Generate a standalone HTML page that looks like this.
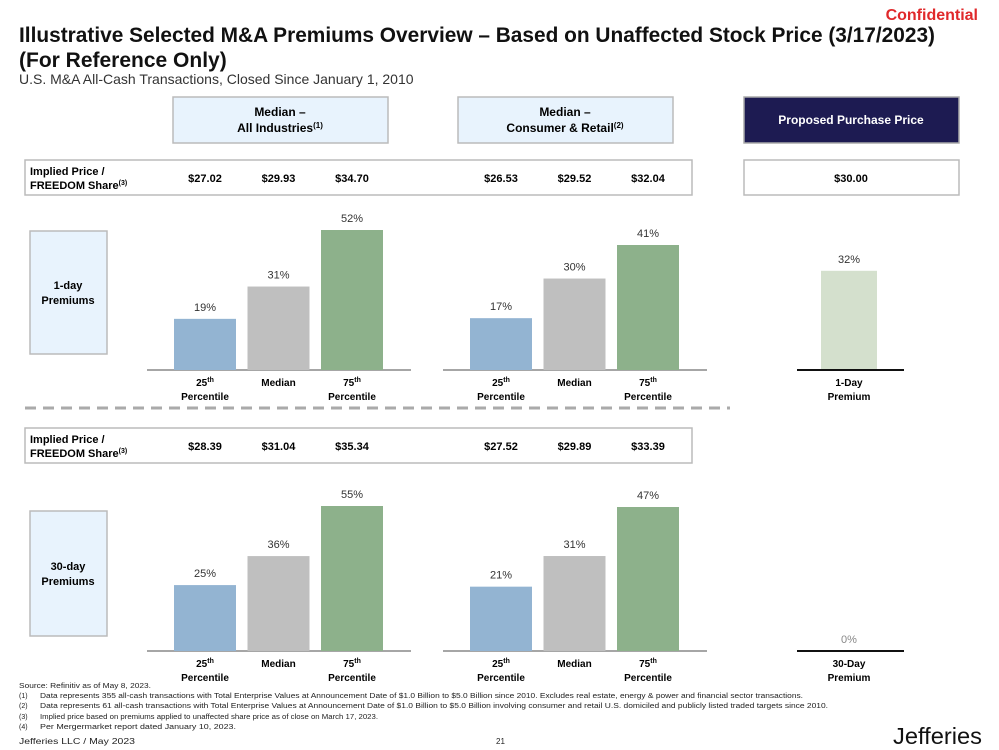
<!DOCTYPE html>
<html><head><meta charset="utf-8"><style>
body{margin:0;width:999px;height:750px;background:#fff;overflow:hidden;font-family:"Liberation Sans",sans-serif}
svg{position:absolute;left:0;top:0}
text{font-family:"Liberation Sans",sans-serif}
.b{font-weight:bold}
</style></head><body>
<svg id="s" width="999" height="750">
<text x="978" y="20" text-anchor="end" fill="#e0292b" font-size="16" class="b">Confidential</text>
<text x="19" y="42" font-size="21" class="b" fill="#111" textLength="916" lengthAdjust="spacingAndGlyphs">Illustrative Selected M&amp;A Premiums Overview – Based on Unaffected Stock Price (3/17/2023)</text>
<text x="19" y="67" font-size="21" class="b" fill="#111">(For Reference Only)</text>
<text x="19" y="84" font-size="14" fill="#333">U.S. M&amp;A All-Cash Transactions, Closed Since January 1, 2010</text>
<g><rect x="173" y="97" width="215" height="46" fill="#e8f3fd" stroke="#bbb" stroke-width="1.5"/>
<text x="280" y="116" text-anchor="middle" font-size="12" class="b">Median –</text>
<text x="280" y="132" text-anchor="middle" font-size="12" class="b">All Industries<tspan font-size="8" dy="-4">(1)</tspan></text></g>
<g><rect x="458" y="97" width="215" height="46" fill="#e8f3fd" stroke="#bbb" stroke-width="1.5"/>
<text x="565" y="116" text-anchor="middle" font-size="12" class="b">Median –</text>
<text x="565" y="132" text-anchor="middle" font-size="12" class="b">Consumer &amp; Retail<tspan font-size="8" dy="-4">(2)</tspan></text></g>
<g><rect x="744" y="97" width="215" height="46" fill="#1d1b52" stroke="#aaa" stroke-width="1.5"/>
<text x="851" y="124" text-anchor="middle" font-size="12" class="b" fill="#fff">Proposed Purchase Price</text></g>
<g><rect x="25" y="160" width="667" height="35" fill="#fff" stroke="#bbb" stroke-width="1.5"/>
<text x="30" y="175" font-size="11" class="b">Implied Price /</text><text x="30" y="189" font-size="11" class="b">FREEDOM Share<tspan font-size="7" dy="-4">(3)</tspan></text></g>
<rect x="744" y="160" width="215" height="35" fill="#fff" stroke="#bbb" stroke-width="1.5"/>
<text x="851" y="182" text-anchor="middle" font-size="11" class="b">$30.00</text>
<g><rect x="25" y="428" width="667" height="35" fill="#fff" stroke="#bbb" stroke-width="1.5"/>
<text x="30" y="443" font-size="11" class="b">Implied Price /</text><text x="30" y="457" font-size="11" class="b">FREEDOM Share<tspan font-size="7" dy="-4">(3)</tspan></text></g>
<g><rect x="30" y="231" width="77" height="123" fill="#e8f3fd" stroke="#bbb" stroke-width="1.5"/>
<text x="68" y="289" text-anchor="middle" font-size="11" class="b">1-day</text><text x="68" y="304" text-anchor="middle" font-size="11" class="b">Premiums</text></g>
<g><rect x="30" y="511" width="77" height="125" fill="#e8f3fd" stroke="#bbb" stroke-width="1.5"/>
<text x="68" y="570" text-anchor="middle" font-size="11" class="b">30-day</text><text x="68" y="585" text-anchor="middle" font-size="11" class="b">Premiums</text></g>
<line x1="25" y1="408" x2="730" y2="408" stroke="#aaa" stroke-width="3" stroke-dasharray="11,7"/>
<g font-size="7" fill="#222">
<text x="19" y="688" textLength="132" lengthAdjust="spacingAndGlyphs">Source: Refinitiv as of May 8, 2023.</text>
<text x="19" y="698">(1)</text><text x="40" y="698" textLength="763" lengthAdjust="spacingAndGlyphs">Data represents 355 all-cash transactions with Total Enterprise Values at Announcement Date of $1.0 Billion to $5.0 Billion since 2010. Excludes real estate, energy &amp; power and financial sector transactions.</text>
<text x="19" y="708">(2)</text><text x="40" y="708" textLength="788" lengthAdjust="spacingAndGlyphs">Data represents 61 all-cash transactions with Total Enterprise Values at Announcement Date of $1.0 Billion to $5.0 Billion involving consumer and retail U.S. domiciled and publicly listed traded targets since 2010.</text>
<text x="19" y="719">(3)</text><text x="40" y="719" textLength="338" lengthAdjust="spacingAndGlyphs">Implied price based on premiums applied to unaffected share price as of close on March 17, 2023.</text>
<text x="19" y="729">(4)</text><text x="40" y="729" textLength="196" lengthAdjust="spacingAndGlyphs">Per Mergermarket report dated January 10, 2023.</text>
<text x="19" y="744" font-size="8" textLength="116" lengthAdjust="spacingAndGlyphs">Jefferies LLC  /  May 2023</text>
<text x="496" y="744" font-size="8">21</text>
</g>
<text x="893" y="744" font-size="23" fill="#111" textLength="89" lengthAdjust="spacingAndGlyphs">Jefferies</text>
</svg>
<script>
const categories=["25th","Median","75th"];
const oneDayAll=[19,31,52];
const oneDayCR=[17,30,41];
const thirtyDayAll=[25,36,55];
const thirtyDayCR=[21,31,47];
const priceOneAll=["$27.02","$29.93","$34.70"];
const priceOneCR=["$26.53","$29.52","$32.04"];
const priceThirtyAll=["$28.39","$31.04","$35.34"];
const priceThirtyCR=["$27.52","$29.89","$33.39"];
const proposedOneDay=[32];
const proposedThirtyDay=[0];
const colors=["#93b4d2","#bfbfbf","#8db18b"];
const s=document.getElementById('s');
const NS="http://www.w3.org/2000/svg";
function mk(t,a,txt){const e=document.createElementNS(NS,t);for(const k in a)e.setAttribute(k,a[k]);if(txt!==undefined)e.textContent=txt;s.appendChild(e);return e;}
function yScale(base,maxH,maxV){return v=>base-v/maxV*maxH;}
function group(vals,prices,x0,base,maxH,priceY,tag){
  const y=yScale(base,maxH,Math.max(...vals));
  const l=mk('line',{x1:x0-27,y1:base,x2:x0+237,y2:base,stroke:'#888','stroke-width':1.5});
  
  
  vals.forEach((v,i)=>{
    const cx=x0+31+i*73.5;
    const r=mk('rect',{x:cx-31,y:y(v),width:62,height:base-y(v),fill:colors[i]});
    
    
    const t=mk('text',{x:cx,y:y(v)-8,'text-anchor':'middle','font-size':11,fill:'#333'},v+'%');
    
    
    const p=mk('text',{x:cx,y:priceY,'text-anchor':'middle','font-size':11,'font-weight':'bold'},prices[i]);
    
    
    const c=mk('text',{x:cx,y:base+16,'text-anchor':'middle','font-size':10,'font-weight':'bold'});
    
    
    if(i==1){c.textContent='Median';}
    else{c.textContent=categories[i].slice(0,2);const sp=document.createElementNS(NS,'tspan');sp.setAttribute('font-size','7');sp.setAttribute('dy','-4');sp.textContent='th';c.appendChild(sp);
      const q=mk('text',{x:cx,y:base+30,'text-anchor':'middle','font-size':10,'font-weight':'bold'},'Percentile');
      
      }
  });
}
group(oneDayAll,priceOneAll,174,370,140,182,'oneday-all');
group(oneDayCR,priceOneCR,470,370,125,182,'oneday-cr');
group(thirtyDayAll,priceThirtyAll,174,651,145,450,'thirtyday-all');
group(thirtyDayCR,priceThirtyCR,470,651,144,450,'thirtyday-cr');
function proposed(vals,base,label,pxPer,tag){
  const v=vals[0];const top=base-v*pxPer;
  const r=mk('rect',{x:821,y:top,width:56,height:Math.max(base-top,0),fill:'#d4e0cd'});
  
  
  const t=mk('text',{x:849,y:top-8,'text-anchor':'middle','font-size':11,fill:v==0?'#888':'#333'},v+'%');
  
  
  const l=mk('line',{x1:797,y1:base,x2:904,y2:base,stroke:'#111','stroke-width':2});
  
  
  const a=mk('text',{x:849,y:base+16,'text-anchor':'middle','font-size':10,'font-weight':'bold'},label);
  
  
  const b=mk('text',{x:849,y:base+30,'text-anchor':'middle','font-size':10,'font-weight':'bold'},'Premium');
  
  
}
proposed(proposedOneDay,370,'1-Day',3.1,'proposed-1day');
proposed(proposedThirtyDay,651,'30-Day',3.1,'proposed-30day');
</script>
</body></html>
